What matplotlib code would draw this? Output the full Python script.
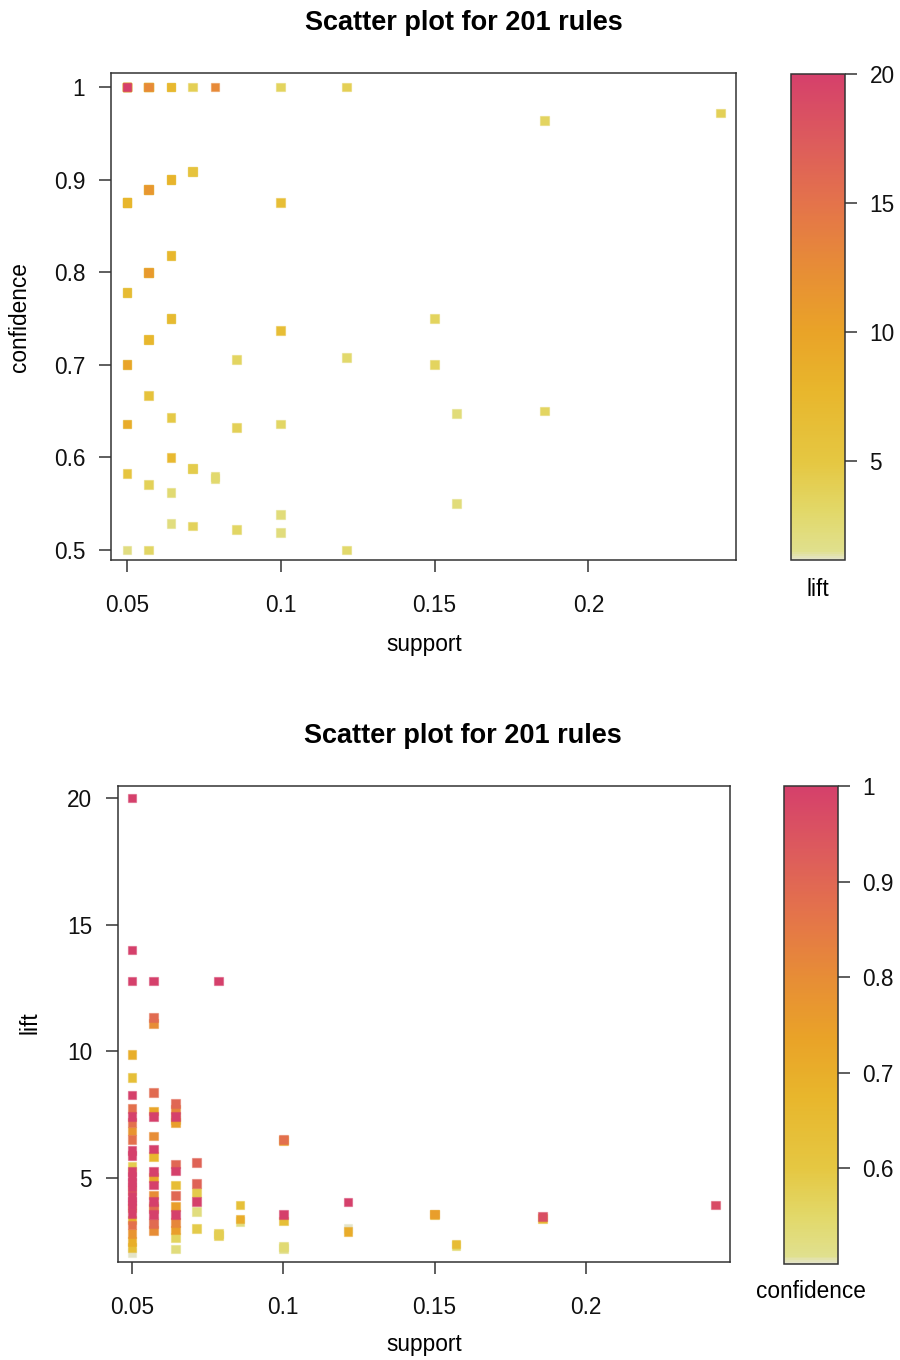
import matplotlib
matplotlib.use("Agg")
import matplotlib.pyplot as plt
from matplotlib.colors import LinearSegmentedColormap, Normalize, to_rgba
from matplotlib.cm import ScalarMappable

plt.rcParams["font.family"] = ["Liberation Sans", "DejaVu Sans"]

TITLE = "Scatter plot for 201 rules"

# rules, grouped by support value (support = count / 140)
support = (
    [0.05] * 30
    + [0.0571] * 20
    + [0.0643] * 15
    + [0.0714] * 6
    + [0.0786] * 3
    + [0.0857] * 3
    + [0.1] * 6
    + [0.1214] * 3
    + [0.15] * 2
    + [0.1571] * 2
    + [0.1857] * 2
    + [0.2429]
)

confidence = (
    [1.0] * 15 + [0.875] * 5 + [0.778] * 3 + [0.7] * 3 + [0.636] * 2 + [0.583, 0.5]
    + [1.0] * 7 + [0.889] * 4 + [0.8] * 4 + [0.727] * 2 + [0.667, 0.571, 0.5]
    + [1.0] * 3 + [0.9] * 3 + [0.818] * 2 + [0.75] * 3 + [0.643, 0.6, 0.5625, 0.529]
    + [1.0, 0.909, 0.909, 0.588, 0.588, 0.526]
    + [1.0, 0.579, 0.5775]
    + [0.706, 0.632, 0.522]
    + [1.0, 0.875, 0.737, 0.636, 0.538, 0.519]
    + [1.0, 0.708, 0.5]
    + [0.75, 0.7]
    + [0.647, 0.55]
    + [0.964, 0.65]
    + [0.972]
)

lift = (
    [20.0, 14.0, 12.78, 8.28, 7.42, 6.1, 5.9, 5.25, 5.05, 4.85, 4.66, 4.27, 4.1, 3.94, 3.61,
     7.76, 7.19, 6.53, 4.5, 3.15, 6.86, 3.82, 2.82, 9.89, 3.35, 2.49, 8.98, 2.26, 5.45, 2.06]
    + [12.78, 7.42, 6.15, 5.25, 4.73, 4.07, 3.57, 11.35, 8.37, 3.81, 3.22,
       11.1, 6.66, 4.33, 2.93, 7.65, 5.03, 5.85, 3.9, 3.3]
    + [7.42, 5.28, 3.57, 7.95, 5.56, 4.3, 7.72, 3.26, 7.19, 3.88, 2.95, 4.73, 7.3, 2.67, 2.2]
    + [4.07, 5.61, 4.79, 4.42, 3.02, 3.68]
    + [12.78, 2.82, 2.75]
    + [3.39, 3.94, 3.3]
    + [3.57, 6.53, 6.47, 3.31, 2.3, 2.22]
    + [4.06, 2.88, 3.0]
    + [3.58, 3.56]
    + [2.4, 2.35]
    + [3.47, 3.42]
    + [3.94]
)

lift_range = (1.18, 20.0)
conf_range = (0.5, 1.0)

support_ticks = [0.05, 0.1, 0.15, 0.2]
support_labels = ["0.05", "0.1", "0.15", "0.2"]
conf_ticks = [0.5, 0.6, 0.7, 0.8, 0.9, 1.0]
conf_labels = ["0.5", "0.6", "0.7", "0.8", "0.9", "1"]
lift_ticks = [5, 10, 15, 20]

# heat-like palette: pale yellow -> orange -> pink red
palette = LinearSegmentedColormap.from_list("heat", [
    (0.00, "#E4E4C8"),
    (0.015, "#E0E08E"),
    (0.10, "#E2D868"),
    (0.20, "#E5C742"),
    (0.35, "#E8B62C"),
    (0.47, "#E9A328"),
    (0.60, "#E78D36"),
    (0.73, "#E4744A"),
    (0.86, "#DD5C5C"),
    (1.00, "#D5406B"),
])

AXIS_COLOR = "#333333"


def style_axes(ax):
    for sp in ax.spines.values():
        sp.set_color(AXIS_COLOR)
        sp.set_linewidth(1.1)
    ax.tick_params(direction="out", length=8.6, width=1.1, color=AXIS_COLOR,
                   labelsize=16.3, labelcolor="#111111")
    ax.tick_params(axis="x", pad=16)
    ax.tick_params(axis="y", pad=10)


def draw_scatter(ax, x, y, shade, vrange):
    norm = Normalize(*vrange)
    # lower shading first, so the highest value ends up on top
    order = sorted(range(len(x)), key=lambda i: shade[i])
    xs = [x[i] for i in order]
    ys = [y[i] for i in order]
    face = [palette(norm(shade[i])) for i in order]
    edge = [to_rgba(c, 0.45) for c in face]
    ax.scatter(xs, ys, s=40, marker="s", c=face, edgecolors=edge, linewidths=0.9, zorder=3)


def draw_colorbar(fig, cax, vrange, ticks, labels, name, name_y):
    sm = ScalarMappable(norm=Normalize(*vrange), cmap=palette)
    cb = fig.colorbar(sm, cax=cax)
    cb.outline.set_edgecolor(AXIS_COLOR)
    cb.outline.set_linewidth(1.1)
    cb.set_ticks(ticks)
    cb.set_ticklabels(labels)
    cax.tick_params(direction="out", length=8.6, width=1.1, color=AXIS_COLOR,
                    labelsize=16.3, labelcolor="#111111", pad=9)
    pos = cax.get_position()
    fig.text((pos.x0 + pos.x1) / 2, name_y, name, ha="center", va="center", fontsize=16.3)


fig = plt.figure(figsize=(9, 13.6), dpi=100)
W, H = 900, 1360


def box(x0, y0, x1, y1):
    return [x0 / W, 1 - y1 / H, (x1 - x0) / W, (y1 - y0) / H]


# top: support vs confidence, shaded by lift
ax1 = fig.add_axes(box(111, 73, 736, 560))
draw_scatter(ax1, support, confidence, lift, lift_range)
ax1.set_xlim(0.0448, 0.248)
ax1.set_ylim(0.4892, 1.0151)
ax1.set_xticks(support_ticks, support_labels)
ax1.set_yticks(conf_ticks, conf_labels)
style_axes(ax1)
fig.text(464 / W, 1 - 23 / H, TITLE, ha="center", va="center", fontsize=19.5, fontweight="bold")
fig.text(424 / W, 1 - 645 / H, "support", ha="center", va="center", fontsize=16.3)
fig.text(20 / W, 1 - 317 / H, "confidence", ha="center", va="center", fontsize=16.3, rotation=90)

cax1 = fig.add_axes(box(791, 74, 845, 560))
draw_colorbar(fig, cax1, lift_range, lift_ticks, [str(t) for t in lift_ticks], "lift", 1 - 589 / H)

# bottom: support vs lift, shaded by confidence
ax2 = fig.add_axes(box(118, 786, 730, 1262))
draw_scatter(ax2, support, lift, confidence, conf_range)
ax2.set_xlim(0.0454, 0.2476)
ax2.set_ylim(1.69, 20.47)
ax2.set_xticks(support_ticks, support_labels)
ax2.set_yticks(lift_ticks, [str(t) for t in lift_ticks])
style_axes(ax2)
fig.text(463 / W, 1 - 736 / H, TITLE, ha="center", va="center", fontsize=19.5, fontweight="bold")
fig.text(424 / W, 1 - 1345 / H, "support", ha="center", va="center", fontsize=16.3)
fig.text(30 / W, 1 - 1023 / H, "lift", ha="center", va="center", fontsize=16.3, rotation=90)

cax2 = fig.add_axes(box(784, 786, 838, 1264))
draw_colorbar(fig, cax2, conf_range, conf_ticks[1:], conf_labels[1:], "confidence", 1 - 1291 / H)

fig.savefig("out.png", dpi=100)
